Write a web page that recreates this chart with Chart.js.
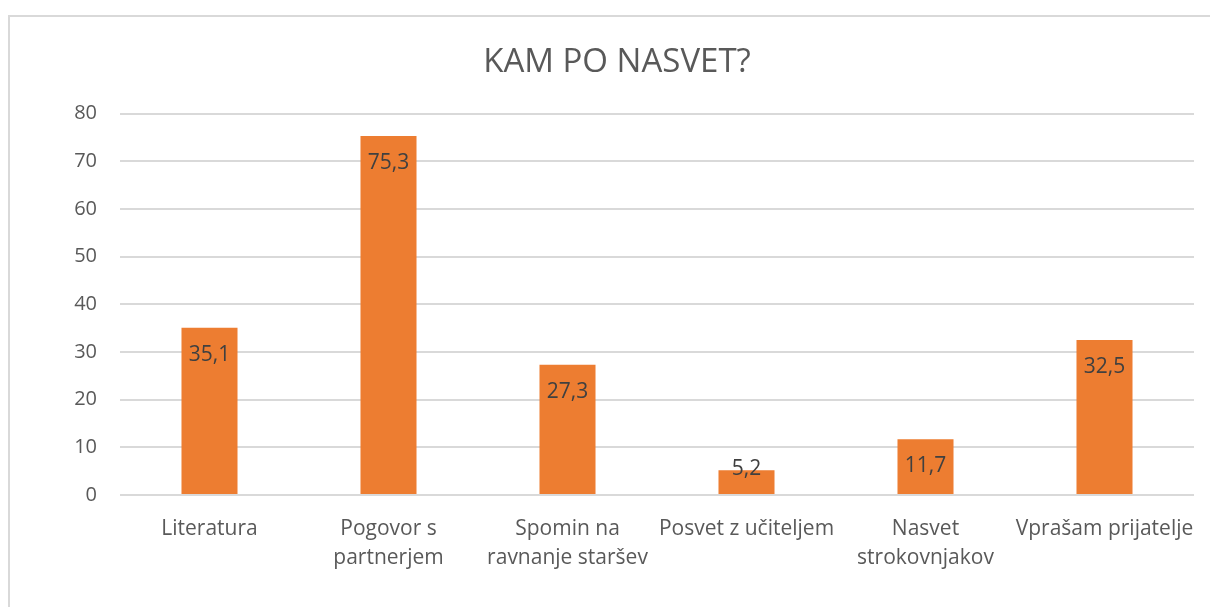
<!DOCTYPE html>
<html>
<head>
<meta charset="utf-8">
<script src="https://cdn.jsdelivr.net/npm/chart.js@4/dist/chart.umd.min.js"></script>
<style>
  html, body { margin: 0; padding: 0; background: #fff; overflow: hidden; }
  #frame {
    position: absolute; left: 8px; top: 15px;
    width: 1218px; height: 592px;
    border-left: 2px solid #d9d9d9; border-top: 2px solid #d9d9d9;
  }
  #frame canvas { position: absolute; left: -2px; top: -2px; }
</style>
</head>
<body>
<div id="frame"><canvas id="chart" width="1218" height="592"></canvas></div>
<script>
const categories = [
  'Literatura',
  ['Pogovor s', 'partnerjem'],
  ['Spomin na', 'ravnanje staršev'],
  'Posvet z učiteljem',
  ['Nasvet', 'strokovnjakov'],
  'Vprašam prijatelje'
];
const values = [35.1, 75.3, 27.3, 5.2, 11.7, 32.5];
const yTicks = [0, 10, 20, 30, 40, 50, 60, 70, 80];

const fontFamily = '"Open Sans", Lato, sans-serif';

// data labels just inside the top of each bar, like Excel's "inside end"
const valueLabels = {
  id: 'valueLabels',
  afterDatasetsDraw(chart) {
    const ctx = chart.ctx;
    const meta = chart.getDatasetMeta(0);
    const base = chart.scales.y.getPixelForValue(0);
    ctx.save();
    ctx.font = '21px ' + fontFamily;
    ctx.fillStyle = '#404040';
    ctx.textAlign = 'center';
    ctx.textBaseline = 'middle';
    meta.data.forEach(function(bar, i) {
      const y = Math.min(bar.y + 27, base - 26);
      ctx.fillText(values[i].toFixed(1).replace('.', ','), bar.x, y);
    });
    ctx.restore();
  }
};

new Chart(document.getElementById('chart'), {
  type: 'bar',
  data: {
    labels: categories,
    datasets: [{
      data: values,
      backgroundColor: '#ED7D31',
      barPercentage: 0.313,
      categoryPercentage: 1
    }]
  },
  options: {
    responsive: false,
    animation: false,
    layout: { padding: { left: 32, right: 32, top: 0, bottom: 0 } },
    plugins: {
      legend: { display: false },
      tooltip: { enabled: false },
      title: {
        display: true,
        text: 'KAM PO NASVET?',
        color: '#595959',
        font: { family: fontFamily, size: 33, weight: 'normal' },
        padding: { top: 28, bottom: 31 }
      }
    },
    scales: {
      x: {
        grid: { display: false },
        border: { display: false },
        ticks: {
          color: '#595959',
          font: { family: fontFamily, size: 21, lineHeight: 1.38 },
          padding: 12,
          maxRotation: 0,
          autoSkip: false
        },
        afterFit: function(scale) { scale.height = 112; }
      },
      y: {
        min: 0,
        max: 80,
        afterBuildTicks: function(scale) {
          scale.ticks = yTicks.map(function(v) { return { value: v }; });
        },
        grid: { color: '#d9d9d9', lineWidth: 2, drawTicks: false },
        border: { display: false },
        ticks: {
          color: '#595959',
          font: { family: fontFamily, size: 20 },
          padding: 23
        },
        afterFit: function(scale) { scale.width = 80; }
      }
    }
  },
  plugins: [valueLabels]
});
</script>
</body>
</html>
